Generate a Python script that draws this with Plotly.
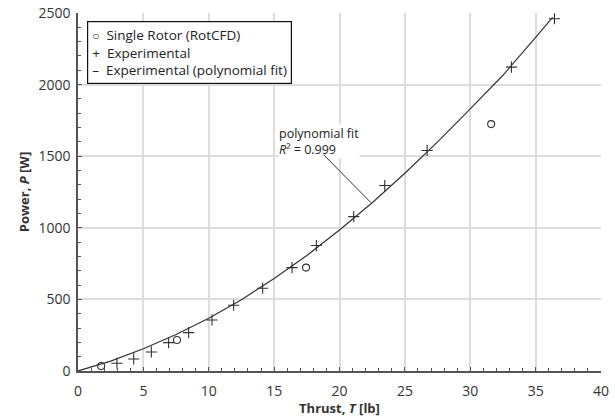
import plotly.graph_objects as go

# Single Rotor (RotCFD)
cfd_T = [1.77, 7.57, 17.44, 31.6]
cfd_P = [35, 217, 722, 1724]

# Experimental
exp_T = [2.98, 4.26, 5.61, 6.93, 8.46, 10.25, 11.9, 14.12, 16.37, 18.23, 21.09, 23.46, 26.7, 33.15, 36.44]
exp_P = [54, 84, 133, 198, 268, 356, 459, 578, 722, 876, 1078, 1295, 1540, 2122, 2460]

# Experimental (polynomial fit)
fit_T = [0, 2.5, 5, 7.5, 10, 12.5, 15, 17.5, 20, 22.5, 25, 27.5, 30, 32.5, 35, 36.3]
fit_P = [0, 69, 155, 255, 368, 498, 646, 806, 985, 1175, 1381, 1600, 1830, 2065, 2330, 2470]

FONT = "Open Sans"
TXT = "#333333"

fig = go.Figure()
fig.add_trace(go.Scatter(x=fit_T, y=fit_P, mode="lines",
                         line=dict(color="#333333", width=1.2), showlegend=False))
fig.add_trace(go.Scatter(x=cfd_T, y=cfd_P, mode="markers",
                         marker=dict(symbol="circle-open", size=7, color="#333333",
                                     line=dict(width=1.1)), showlegend=False))
fig.add_trace(go.Scatter(x=exp_T, y=exp_P, mode="markers",
                         marker=dict(symbol="cross-thin-open", size=8, color="#333333",
                                     line=dict(width=1.1, color="#333333")), showlegend=False))

axis_common = dict(
    showgrid=True, gridcolor="#dddddd", gridwidth=1.5,
    showline=True, linecolor="#555555", linewidth=1.5,
    ticks="inside", ticklen=4, tickcolor="#555555",
    tickfont=dict(family=FONT, size=14, color=TXT),
    zeroline=False, automargin=False,
)

fig.update_xaxes(range=[0, 40], dtick=5, ticklabelstandoff=6,
                 minor=dict(dtick=1, ticks="inside", ticklen=3, tickcolor="#555555", showgrid=False),
                 title=dict(text="<b>Thrust, <i>T</i> [lb]</b>", font=dict(family=FONT, size=13, color=TXT),
                            standoff=4),
                 **axis_common)
fig.update_yaxes(range=[0, 2500], dtick=500, ticklabelstandoff=3,
                 minor=dict(dtick=100, ticks="inside", ticklen=3, tickcolor="#555555", showgrid=False),
                 title=dict(text="<b>Power, <i>P</i> [W]</b>", font=dict(family=FONT, size=13, color=TXT),
                            standoff=6),
                 **axis_common)

# legend box
fig.add_annotation(xref="paper", yref="paper", x=0.017, y=0.978, xanchor="left", yanchor="top",
                   align="left", showarrow=False,
                   text=("<span style='font-size:12px'>○</span>  Single Rotor (RotCFD)<br>"
                         "+  Experimental<br>"
                         "–  Experimental (polynomial fit)"),
                   font=dict(family=FONT, size=13.5, color="#222222"),
                   bordercolor="#111111", borderwidth=1.2, borderpad=4, bgcolor="white")

# fit annotation text
fig.add_annotation(x=18.4, y=1600, xref="x", yref="y", showarrow=False, align="left",
                   text="polynomial fit<br><i>R</i>² = 0.999",
                   font=dict(family=FONT, size=12.5, color="#222222"),
                   bgcolor="white", borderpad=0)
# leader line
fig.add_annotation(x=22.4, y=1176, xref="x", yref="y", axref="x", ayref="y",
                   ax=18.67, ay=1521, showarrow=True, arrowhead=0, arrowwidth=1,
                   arrowcolor="#333333", text="")

fig.update_layout(width=615, height=417, margin=dict(l=78, r=14, t=13, b=46),
                  plot_bgcolor="white", paper_bgcolor="white", showlegend=False)

fig.write_html("out.html")
